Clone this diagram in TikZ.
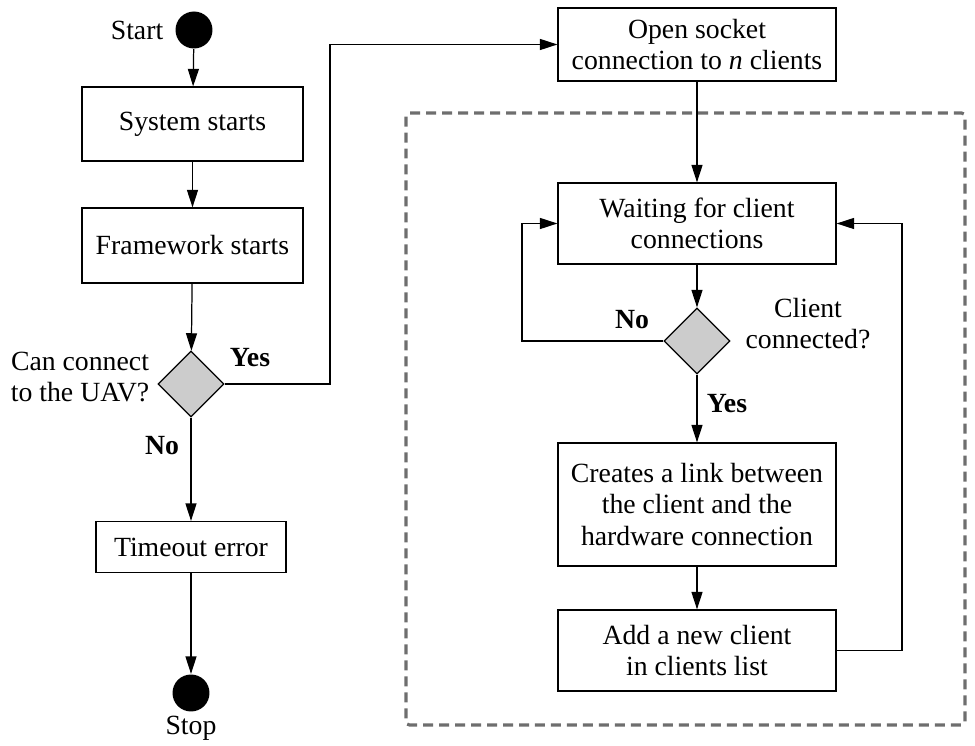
\documentclass[tikz,border=0pt]{standalone}
\usepackage{fontspec}
\setmainfont{Liberation Serif}
\usetikzlibrary{shapes.geometric,arrows.meta,positioning}
\begin{document}
\begin{tikzpicture}[
            x=0.02cm, y=-0.02cm,
            font=\fontsize{15.8pt}{17.7pt}\selectfont,
            every path/.style={line width=0.7pt},
            flow/.style={-{Triangle[length=3.5mm,width=2.2mm]}},
            box/.style={draw, align=center, inner sep=2pt},
            decision/.style={diamond, draw, fill=black!20, minimum size=1.32cm, inner sep=0pt},
            terminal/.style={circle, fill=black, minimum size=0.74cm, inner sep=0pt},
            answer/.style={font=\fontsize{15.8pt}{17.7pt}\selectfont\bfseries, inner sep=0pt},
            note/.style={align=center, inner sep=0pt}
        ]
        \useasboundingbox (0,0) rectangle (975,746);
        \draw[dashed, dash pattern=on 0.2cm off 0.12cm, line width=1.8pt, black!57, rounded corners=2pt]
            (406,113) rectangle (965,725);
        \node[terminal] (start) at (194,30) {};
        \node[note, left=0.22cm of start] (startlbl) {Start};
        \node[box, minimum width=4.42cm, minimum height=1.48cm] (sys) at (192.5,124) {System starts};
        \node[box, minimum width=4.42cm, minimum height=1.5cm] (frame) at (192.5,245.5) {Framework starts};
        \node[decision] (canconnect) at (191,384) {};
        \node[note] (canconnectlbl) at (80,377) {Can connect\\to the UAV?};
        \node[box, minimum width=3.8cm, minimum height=1.02cm] (timeout) at (191,547) {Timeout error};
        \node[terminal] (stop) at (191,693) {};
        \node[note] (stoplbl) at (191,728) {Stop};
        \node[box, minimum width=5.56cm, minimum height=1.46cm] (open) at (697,44.5) {Open socket\\connection to \textit{n} clients};
        \node[box, minimum width=5.56cm, minimum height=1.62cm] (wait) at (697,223.5) {Waiting for client\\connections};
        \node[decision] (connected) at (697,341) {};
        \node[note] (connectedlbl) at (808,323.5) {Client\\connected?};
        \node[box, minimum width=5.56cm, minimum height=2.46cm] (link) at (697,504.5) {Creates a link between\\the client and the\\hardware connection};
        \node[box, minimum width=5.56cm, minimum height=1.62cm] (add) at (697,650.5) {Add a new client\\in clients list};
        \coordinate (yesturn) at (330,384);
        \coordinate (noturn) at (522,341);
        \coordinate (backturn) at (902,650.5);
        \draw[flow] (start) -- (sys);
        \draw[flow] (sys) -- (frame);
        \draw[flow] (frame) -- (canconnect);
        \draw[flow] (canconnect) -- (timeout);
        \draw[flow] (timeout) -- (stop);
        \draw[flow] (canconnect.east) -- (yesturn) |- (open.west);
        \draw[flow] (open) -- (wait);
        \draw[flow] (wait) -- (connected);
        \draw[flow] (connected) -- (link);
        \draw[flow] (link) -- (add);
        \draw[flow] (connected.west) -- (noturn) |- (wait.west);
        \draw[flow] (add.east) -- (backturn) |- (wait.east);
        \node[answer] (yes1) at (250,358) {Yes};
        \node[answer] (no1) at (162,446) {No};
        \node[answer] (no2) at (632,320) {No};
        \node[answer] (yes2) at (727,404) {Yes};
\end{tikzpicture}
\end{document}
